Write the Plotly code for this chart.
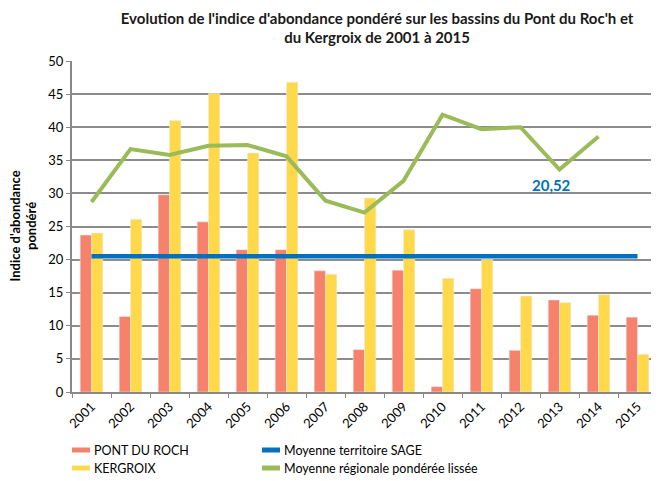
import plotly.graph_objects as go

years = [str(y) for y in range(2001, 2016)]
pont_du_roch = [23.7, 11.4, 29.8, 25.7, 21.5, 21.5, 18.3, 6.4, 18.4, 0.8, 15.6, 6.3, 13.9, 11.6, 11.3]
kergroix = [24.0, 26.1, 41.0, 45.1, 36.1, 46.8, 17.8, 29.3, 24.5, 17.2, 20.0, 14.5, 13.5, 14.7, 5.7]
moyenne_sage = [20.52] * 15
moyenne_regionale = [28.7, 36.7, 35.8, 37.2, 37.3, 35.6, 28.9, 27.1, 31.9, 41.9, 39.7, 40.0, 33.6, 38.6, None]
y_ticks = [0, 5, 10, 15, 20, 25, 30, 35, 40, 45, 50]
sage_label = "20,52"

C_RED = "#F7826B"
C_YEL = "#FFD94A"
C_BLUE = "#0070C0"
C_GREEN = "#9BBB59"
FONT = "Lato"
OFF = 8  # page body margin
W, H = 659 - OFF, 481 - OFF
ML, MT = 72 - OFF, 61 - OFF
MR = W - (657 - OFF)
MB = H - (392 - OFF)
PW, PH = W - ML - MR, H - MT - MB

def px_x(px):
    return (px - OFF - ML) / PW

def px_y(py):
    return (H - MB - (py - OFF)) / PH

fig = go.Figure()
fig.add_trace(go.Bar(x=years, y=pont_du_roch, name="PONT DU ROCH", marker_color=C_RED))
fig.add_trace(go.Bar(x=years, y=kergroix, name="KERGROIX", marker_color=C_YEL))
fig.add_trace(go.Scatter(x=years, y=moyenne_sage, mode="lines", name="Moyenne territoire SAGE",
                         line=dict(color=C_BLUE, width=4.5)))
fig.add_trace(go.Scatter(x=years, y=moyenne_regionale, mode="lines",
                         name="Moyenne régionale pondérée lissée",
                         line=dict(color=C_GREEN, width=4)))

# custom legend (two columns)
legend_items = [
    ("PONT DU ROCH", C_RED, 72, 450),
    ("KERGROIX", C_YEL, 72, 468),
    ("Moyenne territoire SAGE", C_BLUE, 262, 450),
    ("Moyenne régionale pondérée lissée", C_GREEN, 262, 468),
]
for name, color, lx, ly in legend_items:
    fig.add_shape(type="line", xref="paper", yref="paper",
                  x0=px_x(lx), x1=px_x(lx + 18), y0=px_y(ly), y1=px_y(ly),
                  line=dict(color=color, width=5))
    fig.add_annotation(xref="paper", yref="paper", x=px_x(lx + 20), y=px_y(ly),
                       xanchor="left", yanchor="middle", text=name, showarrow=False,
                       font=dict(family=FONT, size=12.5, color="#000"))

fig.add_annotation(x=years.index("2013"), y=31.2, text="<b>" + sage_label + "</b>",
                   showarrow=False, xshift=-8, font=dict(family=FONT, size=15, color=C_BLUE))
fig.add_annotation(xref="paper", yref="paper", x=px_x(23), y=0.5, xanchor="center",
                   yanchor="middle",
                   text="<b>Indice d'abondance<br>pondéré</b>", textangle=-90,
                   showarrow=False, font=dict(family=FONT, size=13, color="#000"))

fig.update_layout(
    width=W, height=H, showlegend=False,
    margin=dict(l=ML, r=MR, t=MT, b=MB),
    paper_bgcolor="white", plot_bgcolor="white",
    font=dict(family=FONT, size=13, color="#000"),
    title=dict(text="<b>Evolution de l'indice d'abondance pondéré sur les bassins du Pont du Roc'h et<br>du Kergroix de 2001 à 2015</b>",
               x=0.567, xanchor="center", y=0.967, yanchor="middle", yref="container",
               font=dict(family=FONT, size=15, color="#1a1a1a")),
    barmode="group", bargap=0.42, bargroupgap=0,
    xaxis=dict(type="category", categoryorder="array", categoryarray=years, range=[-0.5, 14.5],
               tickangle=-45, showline=True, linecolor="#888", linewidth=2,
               ticks="outside", tickson="boundaries", ticklen=4, tickcolor="#888",
               tickfont=dict(family=FONT, size=13, color="#000"), showgrid=False,
               automargin=False),
    yaxis=dict(range=[0, 50], tickvals=y_ticks, showline=True, linecolor="#888", linewidth=2,
               ticks="outside", ticklen=4, tickcolor="#888", showgrid=True,
               gridcolor="#8c8c8c", gridwidth=2.2, zeroline=False, automargin=False,
               tickfont=dict(family=FONT, size=13, color="#000")),
)
fig.write_html("out.html")
